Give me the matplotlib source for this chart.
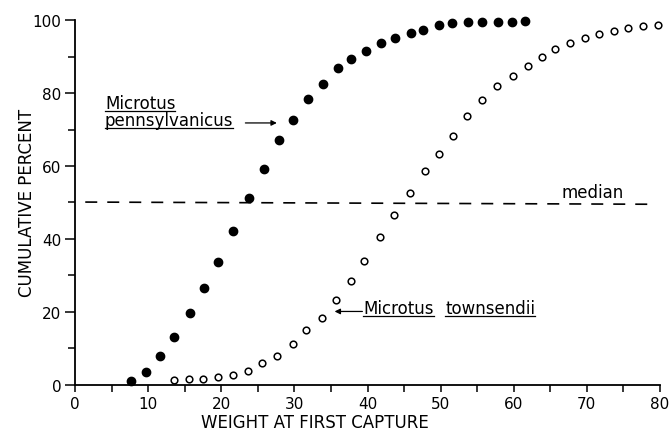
import matplotlib.pyplot as plt
from matplotlib.lines import Line2D

# Microtus pennsylvanicus (filled circles)
penn_weight = [7.7, 9.7, 11.6, 13.6, 15.7, 17.6, 19.5, 21.6, 23.8, 25.8, 27.9, 29.8,
               31.9, 33.9, 35.9, 37.8, 39.8, 41.8, 43.7, 45.9, 47.6, 49.8, 51.6,
               53.8, 55.6, 57.8, 59.8, 61.6]
penn_cum = [1.1, 3.4, 7.9, 13.1, 19.7, 26.5, 33.7, 42.3, 51.3, 59.3, 67.0, 72.5,
            78.5, 82.5, 86.8, 89.3, 91.5, 93.6, 95.0, 96.6, 97.3, 98.6, 99.1,
            99.4, 99.6, 99.6, 99.6, 99.7]

# Microtus townsendii (open circles)
town_weight = [13.5, 15.6, 17.5, 19.6, 21.6, 23.6, 25.6, 27.6, 29.8, 31.6, 33.8,
               35.7, 37.7, 39.5, 41.7, 43.6, 45.8, 47.8, 49.8, 51.7, 53.6, 55.6,
               57.7, 59.9, 61.9, 63.8, 65.6, 67.7, 69.7, 71.7, 73.7, 75.6, 77.7, 79.7]
town_cum = [1.3, 1.6, 1.6, 2.0, 2.7, 3.9, 6.0, 7.8, 11.1, 14.9, 18.4, 23.3, 28.4,
            33.9, 40.4, 46.5, 52.5, 58.6, 63.4, 68.2, 73.6, 78.0, 82.0, 84.6, 87.5,
            89.9, 92.2, 93.8, 95.2, 96.1, 97.0, 97.9, 98.3, 98.7]

median_x = [1.4, 79.1]
median_y = [50.1, 49.5]

plt.rcParams['font.family'] = 'DejaVu Sans'
fig = plt.figure(figsize=(6.71, 4.31), dpi=100)
ax = fig.add_axes([0.1118, 0.105, 0.8718, 0.846])

ax.plot(median_x, median_y, color='black', linestyle=(0, (7.2, 6)), linewidth=1.2)
ax.plot(penn_weight, penn_cum, 'o', color='black', markersize=6.0, clip_on=False)
ax.plot(town_weight, town_cum, 'o', markerfacecolor='white', markeredgecolor='black',
        markeredgewidth=1.1, markersize=4.8, clip_on=False)

ax.set_xlim(0, 80)
ax.set_ylim(0, 100)
ax.set_xticks(range(0, 81, 10))
ax.set_xticks(range(5, 80, 10), minor=True)
ax.set_yticks(range(0, 101, 20))
ax.set_yticks(range(10, 100, 20), minor=True)
ax.tick_params(which='major', length=7, width=1.1, labelsize=11, pad=3)
ax.tick_params(which='minor', length=5, width=1.1)
ax.tick_params(axis='x', which='major', length=5)
for s in ['top', 'right']:
    ax.spines[s].set_visible(False)
for s in ['left', 'bottom']:
    ax.spines[s].set_linewidth(1.3)

ax.set_xlabel('WEIGHT AT FIRST CAPTURE', fontsize=12)
ax.xaxis.set_label_coords(0.41, -0.078)
ax.set_ylabel('CUMULATIVE PERCENT', fontsize=12)
ax.yaxis.set_label_coords(-0.067, 0.5)

ax.text(66.5, 52.9, 'median', fontsize=12, va='center')

# species labels (baseline positions), underlined word by word
words = [
    ('Microtus', 4.1, 76.0),
    ('pennsylvanicus', 4.1, 71.2),
    ('Microtus', 39.4, 19.6),
    ('townsendii', 50.6, 19.6),
]
texts = [ax.text(x, y, w, fontsize=12, va='baseline', ha='left') for w, x, y in words]
fig.canvas.draw()
r = fig.canvas.get_renderer()
inv = fig.transFigure.inverted()
for t in texts:
    bb = t.get_window_extent(r)
    base = ax.transData.transform(t.get_position())[1] - 3
    (x0, y0), (x1, _) = inv.transform([(bb.x0, base), (bb.x1, base)])
    fig.add_artist(Line2D([x0, x1], [y0, y0], color='black', linewidth=0.9))

ax.annotate('', xy=(27.6, 71.8), xytext=(23.3, 71.8),
            arrowprops=dict(arrowstyle='-|>', color='black', lw=0.9,
                            mutation_scale=8, shrinkA=0, shrinkB=0))
ax.annotate('', xy=(35.5, 20.1), xytext=(39.3, 20.1),
            arrowprops=dict(arrowstyle='-|>', color='black', lw=0.9,
                            mutation_scale=8, shrinkA=0, shrinkB=0))

fig.savefig('out.png', dpi=100)
